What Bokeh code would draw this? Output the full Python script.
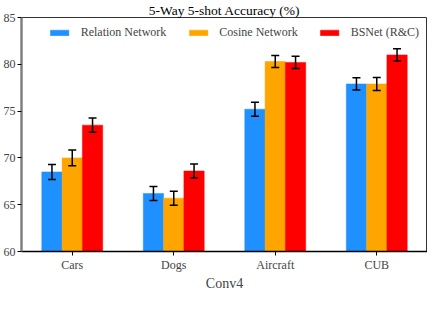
from bokeh.plotting import figure
from bokeh.models import ColumnDataSource, Whisker, TeeHead, Legend, LegendItem, FactorRange
from bokeh.transform import dodge
from bokeh.embed import file_html
from bokeh.resources import INLINE

categories = ["Cars", "Dogs", "Aircraft", "CUB"]
series = ["Relation Network", "Cosine Network", "BSNet (R&C)"]
relation = [68.5, 66.2, 75.2, 77.9]
cosine = [70.0, 65.7, 80.3, 77.9]
bsnet = [73.5, 68.6, 80.2, 81.0]
relation_err = [0.8, 0.75, 0.75, 0.65]
cosine_err = [0.85, 0.75, 0.65, 0.7]
bsnet_err = [0.75, 0.75, 0.65, 0.65]
colors = ["#1E90FF", "#FFA500", "#FF0000"]
yticks = [60, 65, 70, 75, 80, 85]

FONT = "Liberation Serif"

p = figure(x_range=FactorRange(*categories), y_range=(60, 85), width=427, height=293,
           output_backend="svg", toolbar_location=None, title="5-Way 5-shot Accuracy (%)",
           min_border_left=0, min_border_right=0, min_border_top=0, min_border_bottom=0)
p.title.align = "center"
p.title.text_font = FONT
p.title.text_font_size = "13.5px"
p.title.text_font_style = "normal"
p.title.text_color = "black"
p.title.standoff = 0

vals = [relation, cosine, bsnet]
errs = [relation_err, cosine_err, bsnet_err]
offsets = [-0.2, 0.0, 0.2]
items = []
for name, v, e, c, off in zip(series, vals, errs, colors, offsets):
    src = ColumnDataSource(dict(cat=categories, val=v,
                                lo=[a - b for a, b in zip(v, e)],
                                hi=[a + b for a, b in zip(v, e)]))
    r = p.vbar(x=dodge("cat", off, range=p.x_range), top="val", bottom=60, width=0.2,
               source=src, fill_color=c, line_color=c, line_alpha=0.5, line_width=1)
    items.append(LegendItem(label=name, renderers=[r]))
    w = Whisker(base=dodge("cat", off, range=p.x_range), upper="hi", lower="lo", source=src,
                line_color="black", line_width=1.5, level="overlay",
                upper_head=TeeHead(size=8, line_color="black", line_width=1.5),
                lower_head=TeeHead(size=8, line_color="black", line_width=1.5))
    p.add_layout(w)

legend = Legend(items=items, orientation="horizontal", location="top_right",
                border_line_color=None, background_fill_alpha=0,
                label_text_font=FONT, label_text_font_size="12px",
                glyph_width=23, glyph_height=7, spacing=20, label_standoff=10,
                margin=8, padding=4)
p.add_layout(legend)

p.xgrid.grid_line_color = None
p.ygrid.grid_line_color = None
p.outline_line_color = "#333333"
p.outline_line_width = 1

p.yaxis.ticker = yticks
p.yaxis.axis_line_color = "#808080"
p.yaxis.axis_line_width = 2.5
p.yaxis.major_tick_line_color = "black"
p.yaxis.minor_tick_line_color = None
p.yaxis.major_tick_out = 4
p.yaxis.major_tick_in = 0
p.yaxis.major_label_text_font = FONT
p.yaxis.major_label_text_font_size = "12px"
p.yaxis.major_label_standoff = 2

p.xaxis.axis_line_color = "black"
p.xaxis.axis_line_width = 1.5
p.xaxis.major_tick_out = 4
p.xaxis.major_tick_in = 0
p.xaxis.major_label_text_font = FONT
p.xaxis.major_label_text_font_size = "12px"
p.xaxis.major_label_standoff = 2
p.xaxis.axis_label = "Conv4"
p.xaxis.axis_label_text_font = FONT
p.xaxis.axis_label_text_font_size = "14px"
p.xaxis.axis_label_text_font_style = "normal"
p.xaxis.axis_label_standoff = 1
p.x_range.range_padding = 0
p.x_range.group_padding = 0

open("out.html", "w").write(file_html(p, INLINE))
